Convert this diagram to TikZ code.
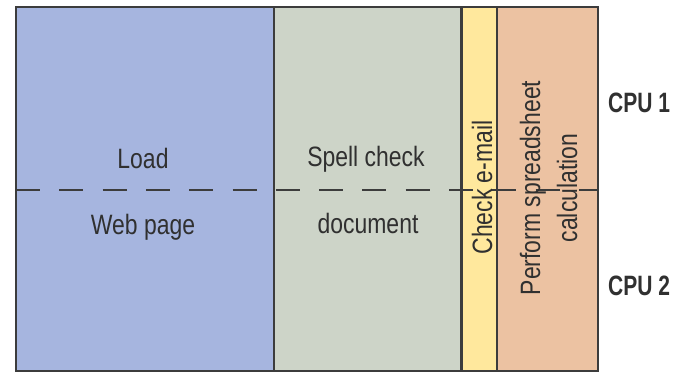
\documentclass[tikz,border=0pt]{standalone}
\usepackage{fontspec}
\setmainfont{Liberation Sans}[FakeStretch=0.82]
\newfontfamily\cpufont{Liberation Sans}[FakeStretch=0.75]
\definecolor{cblue}{HTML}{A6B5DF}
\definecolor{cgreen}{HTML}{CDD4C8}
\definecolor{cyellow}{HTML}{FFE89D}
\definecolor{corange}{HTML}{ECC2A2}
\definecolor{cline}{HTML}{3C3C3C}
\definecolor{ctext}{HTML}{303030}
\tikzset{
  border/.style={draw=cline, line width=1.6pt},
  thickborder/.style={draw=cline, line width=3pt},
  dashline/.style={draw=cline, line width=1.6pt, dash pattern=on 24pt off 19.3pt},
  lbl/.style={inner sep=0pt, text=ctext, font=\fontsize{28}{33}\selectfont},
  cpu/.style={inner sep=0pt, text=ctext, font=\cpufont\bfseries\fontsize{28}{33}\selectfont}
}
\begin{document}
\begin{tikzpicture}[x=1pt,y=-1pt]
\useasboundingbox (0,0) rectangle (681,373);
% region corners
\coordinate (tl) at (16,7);
\coordinate (br) at (598,371);
\coordinate (d1t) at (274,7);
\coordinate (d1b) at (274,371);
\coordinate (d2t) at (461,7);
\coordinate (d2b) at (461,371);
\coordinate (d3t) at (497,7);
\coordinate (d3b) at (497,371);
\coordinate (ml) at (16,190);
\coordinate (mr) at (598,190);
% fills
\fill[cblue] (tl) rectangle (d1b);
\fill[cgreen] (d1t) rectangle (d2b);
\fill[cyellow] (d2t) rectangle (d3b);
\fill[corange] (d3t) rectangle (br);
% dashed CPU split
\draw[dashline] (ml) -- (mr);
% borders
\draw[border] (tl) rectangle (br);
\draw[border] (d1t) -- (d1b);
\draw[thickborder] (d2t) -- (d2b);
\draw[border] (d3t) -- (d3b);
% labels
\node[lbl, anchor=base] (load) at (143,168) {Load};
\node[lbl, anchor=base] (web) at (143,234) {Web page};
\node[lbl, anchor=base] (spell) at (366,166) {Spell check};
\node[lbl, anchor=base] (doc) at (368,233) {document};
\node[lbl, anchor=base, rotate=90] (mail) at (492,187.5) {Check e-mail};
\node[lbl, anchor=base, rotate=90] (perf) at (540,188) {Perform spreadsheet};
\node[lbl, anchor=base, rotate=90] (calc) at (577,188) {calculation};
\node[cpu, anchor=base west] (cpu1) at (608,112) {CPU 1};
\node[cpu, anchor=base west] (cpu2) at (608,295) {CPU 2};
\end{tikzpicture}
\end{document}
